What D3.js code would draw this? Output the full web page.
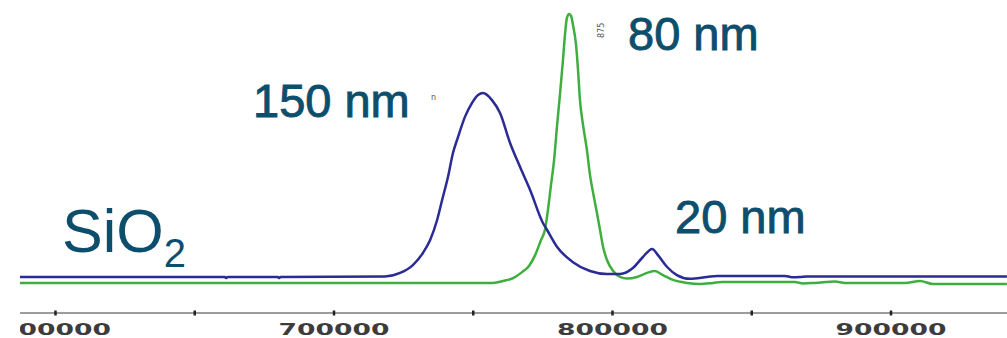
<!DOCTYPE html>
<html>
<head>
<meta charset="utf-8">
<script src="https://cdn.jsdelivr.net/npm/d3@7"></script>
<style>
  html, body { margin: 0; padding: 0; background: #ffffff; }
  svg { display: block; }
</style>
</head>
<body>
<svg id="chart" width="1007" height="338"></svg>
<script>
// Elution traces: position along the axis vs. detector response (arbitrary units)
const blueX = [587400, 661000, 661400, 662000, 680000, 680400, 681000, 718500, 723900, 728500, 732100,
  734700, 737200, 739000, 741100, 742900, 744700, 747200, 749700, 751900, 753700, 756900, 759800,
  763400, 767000, 770600, 775200, 776700, 780300, 786000, 792100, 798200, 802900, 807500, 811100,
  814400, 816500, 819800, 823300, 828000, 834100, 837700, 862100, 864600, 867500, 870000, 941800];
const blueY = [2.6, 2.6, 2.2, 2.6, 2.6, 2.2, 2.6, 2.8, 4.1, 7.0, 11.5,
  16.3, 23.7, 31.1, 39.6, 48.5, 54.4, 61.9, 67.0, 70.0, 70.7, 68.1, 63.3,
  52.2, 43.3, 34.8, 22.6, 20.0, 13.7, 8.1, 4.8, 3.7, 3.7, 5.9, 10.0,
  13.0, 10.7, 6.3, 3.3, 1.9, 2.6, 3.0, 3.0, 2.5, 2.6, 2.8, 2.8];

const greenX = [587400, 757300, 760900, 764500, 767700, 770200, 772400, 774500, 775900, 777000,
  778100, 779200, 780300, 781300, 782400, 783100, 783800, 784600, 785300, 786000, 787100, 787800,
  788500, 789600, 791000, 792100, 793500, 794600, 795700, 796800, 798200, 800400, 802900, 805400,
  809000, 812600, 815400, 818300, 821900, 826900, 831600, 836300, 839500, 865700, 868600, 872900,
  880100, 883700, 905200, 910600, 915300, 941800];
const greenY = [0.4, 0.4, 1.1, 2.2, 4.4, 6.7, 10.7, 16.3, 20.0, 27.4,
  36.7, 45.9, 58.9, 70.0, 83.0, 92.2, 98.5, 100, 99.3, 95.9, 88.5, 79.3,
  68.1, 58.9, 49.6, 40.4, 32.2, 26.3, 20.0, 13.7, 8.9, 4.8, 2.6, 2.0,
  2.6, 4.1, 4.8, 3.3, 1.5, 0.4, 0.0, 0.4, 0.7, 0.7, 0.2, 0.4,
  0.9, 0.4, 0.4, 1.1, 0.0, 0.0];

const tickValues = [600000, 650000, 700000, 750000, 800000, 850000, 900000];
const labelledTicks = [600000, 700000, 800000, 900000];

const peakLabels = [
  { text: "150 nm", x: 253, y: 117 },
  { text: "80 nm", x: 628, y: 50 },
  { text: "20 nm", x: 675, y: 233 }
];

const svg = d3.select("#chart");
const W = 1007, H = 338;

const x = d3.scaleLinear().domain([600000, 900000]).range([55, 890.5]);
const y = d3.scaleLinear().domain([0, 100]).range([284, 14]);

svg.append("defs").append("clipPath").attr("id", "plot-clip")
  .append("rect").attr("x", 20).attr("y", 0).attr("width", W - 20).attr("height", H);

const plot = svg.append("g").attr("clip-path", "url(#plot-clip)");

// bottom axis with dot-like ticks every 50 000, labels every 100 000
const axis = d3.axisBottom(x)
  .tickValues(tickValues)
  .tickSize(0)
  .tickPadding(0)
  .tickFormat(d => labelledTicks.includes(d) ? d3.format("d")(d) : "");

const axisG = plot.append("g").attr("transform", "translate(0,313)").call(axis);
axisG.select(".domain").attr("d", `M20,0H${W}`).attr("stroke", "#3a3a3a").attr("stroke-width", 1.2);
axisG.selectAll(".tick line").attr("y1", -2.5).attr("y2", 2.5)
  .attr("stroke", "#222").attr("stroke-width", 2.5);
axisG.selectAll(".tick text")
  .attr("y", 22).attr("dy", 0)
  .attr("fill", "#3c3c3c")
  .style("font-family", "'DejaVu Sans', sans-serif")
  .style("font-weight", "bold")
  .style("font-size", "16px")
  .attr("transform", "scale(1.66,1)");

const line = d3.line()
  .x(d => x(d[0]))
  .y(d => y(d[1]))
  .curve(d3.curveMonotoneX);

plot.append("path")
  .datum(greenX.map((v, i) => [v, greenY[i]]))
  .attr("d", line)
  .attr("fill", "none")
  .attr("stroke", "#3fae3f")
  .attr("stroke-width", 2.5);

plot.append("path")
  .datum(blueX.map((v, i) => [v, blueY[i]]))
  .attr("d", line)
  .attr("fill", "none")
  .attr("stroke", "#2b2b96")
  .attr("stroke-width", 2.5);

// small peak annotations from the instrument software
svg.append("text").attr("x", 431).attr("y", 100).text("n")
  .attr("fill", "#555").style("font-family", "'DejaVu Sans', sans-serif").style("font-size", "8px");
svg.append("text").attr("transform", "translate(604,38) rotate(-90)").text("875")
  .attr("fill", "#555").style("font-family", "'DejaVu Sans', sans-serif").style("font-size", "8px");

const labelColor = "#0d4e6d";
svg.selectAll("text.peak").data(peakLabels).join("text")
  .attr("class", "peak")
  .attr("x", d => d.x).attr("y", d => d.y)
  .attr("fill", labelColor)
  .attr("stroke", labelColor)
  .attr("stroke-width", 0.9)
  .style("font-family", "'Liberation Sans', Arial, sans-serif")
  .style("font-size", "47px")
  .text(d => d.text);

const sio2 = svg.append("text").attr("x", 62).attr("y", 252)
  .attr("fill", labelColor)
  .style("font-family", "'Liberation Sans', Arial, sans-serif")
  .style("font-size", "61px");
sio2.append("tspan").text("SiO");
sio2.append("tspan").attr("dy", 15).style("font-size", "40px").text("2");
</script>
</body>
</html>
